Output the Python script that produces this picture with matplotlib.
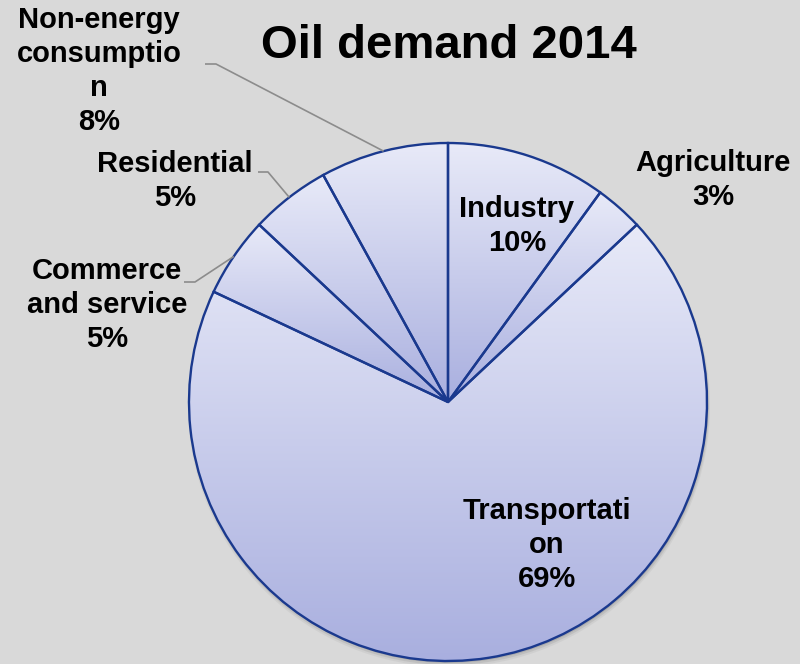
import numpy as np
import matplotlib
matplotlib.use("Agg")
import matplotlib.pyplot as plt
from matplotlib.colors import LinearSegmentedColormap
from matplotlib.patches import Circle

# oil demand shares, clockwise from 12 o'clock
sectors = ["Industry", "Agriculture", "Transportation",
           "Commerce and service", "Residential", "Non-energy consumption"]
shares = [10, 3, 69, 5, 5, 8]
label_text = ["Industry\n10%", "Agriculture\n3%", "Transportati\non\n69%",
              "Commerce\nand service\n5%", "Residential\n5%",
              "Non-energy\nconsumptio\nn\n8%"]

W, H = 800, 664
cx, cy, R = 448, H - 402, 259

plt.rcParams["font.family"] = ["Liberation Sans", "DejaVu Sans"]
fig = plt.figure(figsize=(W / 100, H / 100), dpi=100, facecolor="#d9d9d9")
ax = fig.add_axes([0, 0, 1, 1])
ax.set_facecolor("#d9d9d9")

wedges, _ = ax.pie(shares, radius=R, center=(cx, cy), startangle=90,
                   counterclock=False, frame=True,
                   wedgeprops=dict(facecolor="none", edgecolor="#1a398e",
                                   linewidth=1.7, zorder=3))

# each slice gets its own top-to-bottom gradient
grad = LinearSegmentedColormap.from_list("slice", ["#e8eaf8", "#a9afdf"])
g = grad(np.linspace(0, 1, 256))[:, None, :3]
for w in wedges:
    bb = w.get_path().get_extents()
    im = ax.imshow(g, extent=(bb.x0, bb.x1, bb.y0, bb.y1), origin="upper",
                   aspect="auto", interpolation="bilinear", zorder=2)
    im.set_clip_path(w)

# soft shadow under the disc
for k, a in enumerate([0.18, 0.12, 0.07]):
    ax.add_patch(Circle((cx + 1, cy - 2 - k), R + k, facecolor="#555555",
                        edgecolor="none", alpha=a, zorder=1))

# label positions (pixel coords from top-left)
label_pos = [(517, 226), (713, 180), (547, 545), (107, 305), (175, 181), (99, 71)]
for txt, (x, y) in zip(label_text, label_pos):
    ax.text(x, H - y, txt, ha="center", va="center", fontsize=21,
            fontweight="bold", linespacing=1.26, zorder=5)

# leader lines for the small outer labels
mid = 90 - (np.cumsum(shares) - np.array(shares) / 2) * 3.6
leaders = {3: (184, 195, 282), 4: (258, 268, 172), 5: (205, 216, 64)}
for i, (xa, xb, y) in leaders.items():
    ex = cx + R * np.cos(np.radians(mid[i]))
    ey = cy + R * np.sin(np.radians(mid[i]))
    ax.plot([xa, xb, ex], [H - y, H - y, ey], color="#8c8c8c", lw=1.2,
            zorder=4, solid_capstyle="butt")

ax.text(449, H - 46, "Oil demand 2014", ha="center", va="center",
        fontsize=34, fontweight="bold", zorder=5)

ax.set_xlim(0, W)
ax.set_ylim(0, H)
ax.set_aspect("auto")
ax.axis("off")

fig.savefig("out.png", dpi=100, facecolor=fig.get_facecolor())
